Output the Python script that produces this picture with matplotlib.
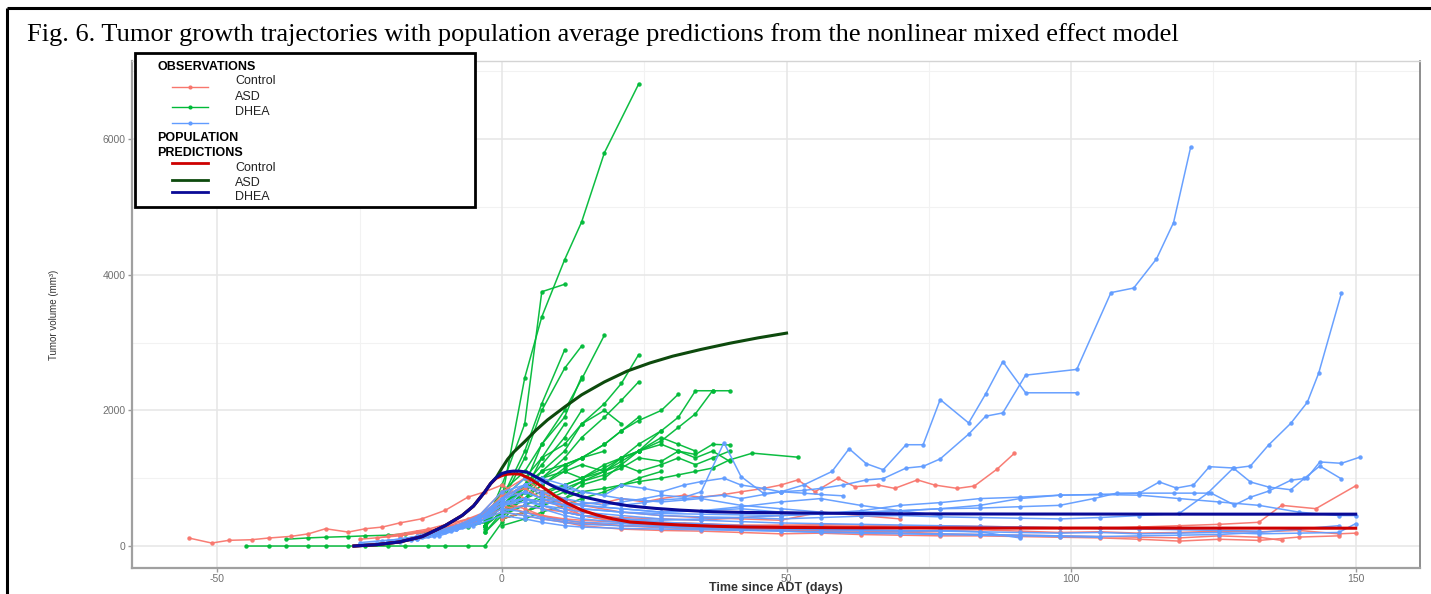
"""Fig. 6 - tumor growth trajectories with population predictions."""

import matplotlib

matplotlib.use("Agg")
import matplotlib.pyplot as plt
from matplotlib.patches import Rectangle

plt.rcParams["axes.unicode_minus"] = False

W, H = 1431, 594

CONTROL_COLOR = "#F8766D"
ASD_COLOR = "#00BA38"
DHEA_COLOR = "#619CFF"
CONTROL_PRED_COLOR = "#CD0000"
ASD_PRED_COLOR = "#0d4a0d"
DHEA_PRED_COLOR = "#0a0a96"

# ---- observed trajectories (days since ADT, tumor volume mm3) ----
ASD_DAYS = [
    [-3, 0, 4, 7, 11, 14, 18, 24],
    [-3, 0, 4, 7, 11],
    [-3, 0, 4, 7, 11, 14],
    [-3, 0, 4, 7, 11, 14, 18],
    [-3, 0, 4, 7, 11],
    [-3, 0, 4, 7, 11, 14, 18, 21, 24],
    [-3, 0, 4, 7, 11, 14, 18, 21, 24],
    [0, 4, 7, 11, 14, 18, 21, 24, 28, 31],
    [0, 4, 7, 11, 14, 18, 21, 24, 28, 31, 34, 37, 40],
    [0, 4, 7, 11, 14, 18, 21, 24, 28, 31, 34, 37],
    [0, 4, 7, 11, 14, 18, 21, 24, 28, 31, 34, 37, 40],
    [0, 4, 7, 11, 14, 18, 21, 24, 28, 31, 34, 37, 40, 44, 52],
    [-45, -41, -38, -34, -31, -27, -24, -20, -17, -13, -10, -6, -3, 0, 4, 7, 11],
    [-38, -34, -31, -27, -24, -20, -17, -13, -10, -6, -3, 0, 4, 7, 11, 14],
    [-3, 0, 4, 7, 11, 14, 18, 21],
    [-3, 0, 4, 7, 11, 14, 18, 21, 24, 28],
    [0, 4, 7, 11, 14, 18, 21, 24, 28, 31, 34, 37, 40],
    [0, 4, 7, 11, 14, 18, 21, 24, 28, 31, 34],
    [-3, 0, 4, 7, 11, 14],
    [0, 4, 7, 11, 14, 18, 21, 24],
    [-3, 0, 4, 7, 11, 14, 18],
    [0, 4, 7, 11, 14, 18, 21, 24, 28],
    [-3, 0, 4, 7, 11, 14, 18, 21, 24, 28, 31, 34, 37, 40],
]
ASD_VOLS = [
    [250, 700, 2480, 3380, 4220, 4780, 5800, 6810],
    [300, 900, 1800, 3750, 3860],
    [300, 650, 1300, 2000, 2620, 2950],
    [200, 500, 900, 1500, 2000, 2460, 3110],
    [300, 700, 1400, 2100, 2890],
    [300, 500, 800, 1100, 1400, 1800, 2100, 2400, 2820],
    [200, 450, 700, 1000, 1300, 1600, 1900, 2150, 2420],
    [500, 700, 900, 1150, 1300, 1500, 1700, 1850, 2000, 2240],
    [450, 600, 750, 900, 1000, 1150, 1300, 1400, 1700, 1900, 2290, 2290, 2290],
    [400, 500, 650, 800, 950, 1100, 1250, 1400, 1550, 1750, 1950, 2290],
    [500, 600, 700, 850, 950, 1050, 1150, 1300, 1250, 1400, 1350, 1500, 1490],
    [400, 500, 600, 700, 800, 850, 900, 950, 1000, 1050, 1100, 1150, 1270, 1370, 1310],
    [0, 0, 0, 0, 0, 0, 0, 0, 0, 0, 0, 0, 0, 350, 800, 1300, 1800],
    [100, 120, 130, 140, 150, 160, 180, 200, 230, 280, 350, 600, 900, 1200, 1600, 2000],
    [400, 700, 1000, 1300, 1500, 1800, 2000, 1800],
    [300, 500, 700, 900, 1100, 1000, 1200, 1300, 1500, 1700],
    [600, 850, 1000, 1100, 1200, 1100, 1300, 1400, 1500, 1400, 1300, 1400, 1250],
    [400, 500, 600, 700, 900, 1000, 1200, 1400, 1600, 1500, 1400],
    [400, 800, 1100, 1500, 1900, 2500],
    [500, 800, 1000, 1200, 1300, 1500, 1700, 1900],
    [300, 600, 900, 1100, 1200, 1300, 1400],
    [300, 400, 500, 600, 700, 800, 900, 1000, 1100],
    [300, 500, 700, 800, 900, 1000, 1100, 1200, 1100, 1200, 1300, 1200, 1300, 1400],
]

CONTROL_DAYS = [
    [-55, -51, -48, -44, -41, -37, -34, -31, -27, -24, -21, -18, -14, -10, -6, -3,
     0, 4, 7, 11, 14, 18, 21, 25, 28, 32, 35, 39],
    [-10, -6, -3, 0, 4, 7, 11, 14, 18, 21, 25, 28, 32, 35, 39, 42, 46, 49, 52, 55,
     59, 62, 66, 69, 73, 76, 80, 83, 87, 90],
    [-20, -13, -6, 0, 4, 7, 11, 14, 21, 28, 35, 42, 49, 56, 63, 70, 77, 84, 91, 98,
     105, 112, 119, 126, 133, 137, 143, 150],
    [-25, -18, -11, -4, 0, 4, 7, 11, 14, 21, 28, 35, 42, 49, 56, 63, 70, 77, 84, 91,
     98, 105, 112, 119, 126, 133, 140, 147],
    [-15, -8, -4, 0, 4, 7, 11, 14, 21, 28, 35, 42, 49, 56, 63, 70, 77, 84],
    [-18, -11, -4, 0, 4, 7, 11, 14, 21, 28, 35, 42, 49],
    [-12, -5, 0, 4, 7, 11, 14, 21, 28, 35, 42, 49, 56, 63, 70, 77, 84, 91, 98, 105,
     112, 119, 126, 133, 140, 147, 150],
    [-22, -15, -8, -4, 0, 4, 7, 11, 14, 21, 28, 35, 42, 49, 56, 63],
    [0, 4, 7, 11, 14, 21, 28, 35, 42, 49, 56, 63, 70, 77, 84, 91, 98, 105, 112, 119,
     126, 133, 137],
    [-8, -4, 0, 4, 7, 11, 14, 21, 28, 35, 42, 49, 56, 63, 70],
    [-14, -7, -3, 0, 4, 7, 11, 14, 21, 28, 35, 42, 49, 56, 63, 70, 77],
]
CONTROL_VOLS = [
    [118, 44, 84, 93, 118, 143, 180, 255, 206, 255, 280, 340, 403, 525, 720, 800,
     900, 700, 600, 500, 450, 400, 380, 350, 330, 320, 310, 300],
    [250, 350, 450, 600, 700, 650, 600, 620, 640, 700, 650, 700, 750, 720, 760, 800,
     850, 900, 975, 800, 1000, 875, 900, 850, 975, 900, 850, 885, 1135, 1365],
    [150, 250, 400, 600, 500, 450, 400, 380, 350, 330, 320, 300, 310, 300, 290, 280,
     300, 290, 280, 270, 260, 280, 300, 320, 350, 600, 551, 888],
    [100, 150, 250, 400, 650, 550, 450, 350, 300, 250, 230, 220, 200, 180, 190, 170,
     160, 150, 150, 140, 130, 120, 100, 73, 100, 83, 132, 150],
    [200, 300, 400, 700, 900, 750, 600, 500, 400, 350, 330, 310, 300, 320, 310, 300,
     290, 280],
    [150, 250, 450, 800, 1000, 800, 600, 450, 350, 300, 280, 250, 230],
    [200, 350, 500, 450, 400, 350, 330, 300, 290, 270, 260, 250, 230, 220, 210, 230,
     240, 220, 200, 210, 190, 200, 220, 210, 230, 180, 190],
    [120, 200, 300, 400, 550, 600, 550, 500, 450, 420, 400, 380, 420, 450, 480, 500],
    [400, 500, 450, 380, 350, 300, 270, 250, 240, 230, 220, 200, 210, 180, 170, 160,
     150, 140, 130, 120, 150, 130, 83],
    [300, 450, 700, 900, 800, 700, 600, 500, 450, 420, 400, 380, 500, 450, 400],
    [180, 320, 480, 750, 850, 700, 550, 450, 350, 300, 280, 260, 240, 250, 230, 220,
     210],
]

DHEA_DAYS = [
    [-25, -21, -18, -14, -11, -7, -4, 0, 4, 7, 11, 14, 18, 21, 25, 28, 32, 35, 39,
     42, 46, 49, 53, 56, 60, 64, 67, 71, 74, 77, 82, 85, 88, 92, 101, 107, 111, 115,
     118, 121],
    [-20, -14, -7, -4, 0, 4, 7, 11, 14, 18, 21, 25, 28, 32, 35, 39, 42, 46, 49, 53,
     58, 61, 64, 67, 71, 74, 77, 82, 85, 88, 92, 101],
    [-15, -8, -4, 0, 4, 7, 11, 14, 21, 28, 35, 42, 49, 56, 63, 70, 77, 84, 91, 98,
     104, 108, 112, 115.5, 118.5, 121.5, 124.3, 128.7, 131.5, 134.7, 138.6, 141.5,
     143.5, 147.5],
    [-18, -11, -4, 0, 4, 7, 11, 14, 21, 28, 35, 42, 49, 56, 63, 70, 77, 84, 91, 98,
     105, 112, 118, 121.6, 124.6, 128.7, 131.5, 134.7, 138.6, 141.4, 143.7, 147.5,
     150.7],
    [-10, -4, 0, 4, 7, 11, 14, 21, 28, 35, 42, 49, 56, 63, 70, 77, 84, 91, 98, 105,
     112, 119, 124, 128.5, 131.5, 134.7, 138.6, 141, 143.7, 147.5],
    [-25, -18, -11, -4, 0, 4, 7, 11, 14, 21, 28, 35, 42, 49, 56, 63, 70, 77, 84, 91,
     98, 105, 112, 119, 126, 133, 140, 147, 150],
    [-20, -13, -6, 0, 4, 7, 11, 14, 21, 28, 35, 42, 49, 56, 63, 70, 77, 84, 91, 98,
     105],
    [-15, -8, -4, 0, 4, 7, 11, 14, 21, 28, 35, 42, 49, 56, 63, 70, 77],
    [-12, -5, 0, 4, 7, 11, 14, 21, 28, 35, 42, 49, 56, 63, 70, 77, 84, 91, 98, 105,
     112, 119, 126, 133, 140, 147],
    [-8, -4, 0, 4, 7, 11, 14, 21, 28, 35, 42, 49, 56, 63, 70, 77, 84, 91, 98, 105,
     112, 119, 126, 133],
    [-18, -11, -4, 0, 4, 7, 11, 14, 21, 28, 35, 42, 49, 56],
    [0, 4, 7, 11, 14, 21, 28, 35, 42, 49, 56, 63, 70, 77, 84, 91],
    [-22, -15, -8, -4, 0, 4, 7, 11, 14, 21, 28, 35, 42, 49, 56, 63, 70, 77, 84, 91,
     98, 105, 112, 119, 126, 133, 140, 147, 150],
    [-20, -14, -7, -3, 0, 4, 7, 11, 14, 18, 21, 25, 28, 32, 35, 39, 42, 46, 49, 53,
     56, 60],
    [-16, -9, -4, 0, 4, 7, 11, 14, 21, 28, 35, 42, 49, 56, 63],
]
DHEA_VOLS = [
    [50, 80, 100, 150, 200, 300, 400, 600, 700, 650, 600, 620, 650, 600, 640, 680,
     700, 720, 750, 700, 760, 800, 820, 850, 900, 975, 995, 1150, 1175, 1285, 1650,
     1915, 1963, 2520, 2605, 3737, 3805, 4234, 4770, 5880],
    [80, 150, 300, 450, 800, 900, 800, 700, 650, 600, 650, 700, 750, 720, 800, 1525,
     1025, 775, 800, 900, 1100, 1435, 1215, 1125, 1494, 1494, 2160, 1815, 2245, 2720,
     2260, 2260],
    [100, 250, 400, 600, 700, 600, 500, 450, 400, 380, 400, 420, 450, 480, 500, 520,
     550, 560, 580, 600, 700, 780, 780, 945, 855, 900, 1170, 1150, 1180, 1490, 1810,
     2120, 2550, 3730],
    [100, 200, 400, 700, 900, 750, 650, 600, 550, 500, 520, 550, 500, 480, 520, 600,
     640, 700, 720, 750, 760, 780, 780, 780, 780, 605, 720, 810, 970, 1000, 1240,
     1220, 1310],
    [200, 350, 600, 800, 700, 600, 550, 500, 450, 430, 420, 400, 420, 440, 450, 430,
     420, 410, 400, 420, 450, 480, 780, 1150, 945, 870, 830, 1000, 1180, 990],
    [30, 60, 150, 350, 550, 500, 420, 380, 350, 330, 300, 280, 260, 250, 240, 230,
     220, 230, 210, 200, 190, 200, 180, 190, 200, 180, 190, 200, 330],
    [60, 150, 300, 500, 450, 400, 350, 320, 300, 280, 260, 240, 220, 200, 190, 180,
     170, 160, 150, 140, 130],
    [150, 300, 450, 700, 800, 700, 650, 600, 550, 500, 520, 580, 650, 700, 600, 520,
     450],
    [150, 300, 450, 400, 350, 300, 280, 260, 250, 240, 230, 220, 210, 200, 190, 180,
     170, 160, 150, 140, 150, 160, 170, 200, 250, 300],
    [250, 400, 650, 700, 600, 550, 500, 450, 400, 380, 360, 340, 330, 320, 310, 300,
     290, 280, 270, 260, 250, 240, 230, 220],
    [80, 200, 400, 600, 650, 600, 500, 450, 400, 350, 330, 300, 280, 250],
    [500, 600, 550, 450, 400, 350, 320, 300, 280, 270, 250, 240, 230, 220, 210, 120],
    [40, 100, 250, 400, 600, 700, 650, 600, 550, 500, 480, 470, 460, 450, 470, 500,
     520, 550, 600, 700, 750, 760, 750, 700, 650, 600, 500, 450, 450],
    [70, 130, 280, 450, 700, 1000, 950, 850, 800, 750, 900, 850, 800, 900, 950, 1000,
     900, 850, 800, 780, 760, 740],
    [90, 220, 420, 650, 900, 1000, 900, 800, 700, 650, 700, 600, 550, 500, 480],
]

# ---- population predictions ----
CONTROL_PRED_DAYS = [-26, -22, -18, -14, -10, -7, -5, -3, -2, -1, 0, 1, 2, 3.2, 5,
                     7.9, 9.5, 11.4, 14, 16.7, 19.5, 22.5, 27, 31.3, 37, 43, 50, 60,
                     70, 90, 110, 130, 150]
CONTROL_PRED_VOLS = [0, 20, 60, 140, 300, 450, 590, 800, 920, 1000, 1040, 1060, 1065,
                     1060, 990, 826, 730, 634, 530, 457, 400, 354, 330, 310, 292, 280,
                     274, 270, 267, 265, 265, 264, 263]
ASD_PRED_DAYS = [-26, -22, -18, -14, -10, -7, -5, -3, -2, -1, 0, 1, 2, 4, 6, 8, 11,
                 14, 18, 22, 26, 30, 35, 40, 45, 50]
ASD_PRED_VOLS = [0, 20, 60, 140, 300, 450, 590, 800, 920, 1010, 1150, 1280, 1380,
                 1540, 1710, 1860, 2050, 2230, 2420, 2580, 2700, 2800, 2900, 2990,
                 3070, 3140]
DHEA_PRED_DAYS = [-26, -22, -18, -14, -10, -7, -5, -3, -2, -1, 0, 1, 2, 3, 4.4, 6,
                  7.9, 9.5, 11.4, 14, 16.7, 19.5, 22.5, 27, 31.3, 37, 43, 50, 55, 70,
                  90, 110, 130, 150]
DHEA_PRED_VOLS = [0, 20, 60, 140, 300, 450, 590, 800, 920, 1010, 1070, 1095, 1105,
                  1105, 1090, 1020, 930, 860, 800, 730, 680, 630, 590, 555, 530, 505,
                  495, 490, 485, 475, 472, 471, 470, 470]

X_MAJOR = [-50, 0, 50, 100, 150]
X_MINOR = [-25, 25, 75, 125]
Y_MAJOR = [0, 2000, 4000, 6000]
Y_MINOR = [1000, 3000, 5000, 7000]

TITLE = ("Fig. 6. Tumor growth trajectories with population average predictions "
         "from the nonlinear mixed effect model")

SANS = "Liberation Sans"


def px_box(left, top, right, bottom):
    """Figure-pixel box -> [l, b, w, h] in figure fractions."""
    return [left / W, 1 - bottom / H, (right - left) / W, (bottom - top) / H]


def draw_obs(ax, days, vols, color):
    for d, v in zip(days, vols):
        ax.plot(d, v, color=color, lw=1.1, marker="o", ms=3.2, mew=0,
                alpha=0.95, zorder=3)


fig = plt.figure(figsize=(W / 100, H / 100), dpi=100)
fig.patch.set_facecolor("white")

ax = fig.add_axes(px_box(132, 61, 1420, 568))
ax.set_xlim(-65.0, 161.3)
ax.set_ylim(-324, 7153)

for x in X_MINOR:
    ax.axvline(x, color="#f2f2f2", lw=0.8, zorder=0)
for y in Y_MINOR:
    ax.axhline(y, color="#f2f2f2", lw=0.8, zorder=0)
for x in X_MAJOR:
    ax.axvline(x, color="#e6e6e6", lw=1.1, zorder=0)
for y in Y_MAJOR:
    ax.axhline(y, color="#e6e6e6", lw=1.1, zorder=0)

draw_obs(ax, ASD_DAYS, ASD_VOLS, ASD_COLOR)
draw_obs(ax, CONTROL_DAYS, CONTROL_VOLS, CONTROL_COLOR)
draw_obs(ax, DHEA_DAYS, DHEA_VOLS, DHEA_COLOR)

ax.plot(ASD_PRED_DAYS, ASD_PRED_VOLS, color=ASD_PRED_COLOR, lw=2.2, zorder=5)
ax.plot(CONTROL_PRED_DAYS, CONTROL_PRED_VOLS, color=CONTROL_PRED_COLOR, lw=2.2, zorder=5)
ax.plot(DHEA_PRED_DAYS, DHEA_PRED_VOLS, color=DHEA_PRED_COLOR, lw=2.2, zorder=6)

ax.set_xticks(X_MAJOR)
ax.set_yticks(Y_MAJOR)
ax.tick_params(colors="#9a9a9a", length=3, width=1, labelcolor="#707070",
               labelsize=7.5, pad=1.5)
for lab in ax.get_xticklabels() + ax.get_yticklabels():
    lab.set_family(SANS)

for side in ("left", "bottom"):
    ax.spines[side].set_color("#a0a0a0")
    ax.spines[side].set_linewidth(1.6)
ax.spines["right"].set_color("#7a7a7a")
ax.spines["right"].set_linewidth(1.2)
ax.spines["top"].set_color("#d4d4d4")
ax.spines["top"].set_linewidth(1.0)

ax.set_xlabel("Time since ADT (days)", family=SANS, fontsize=9, fontweight="bold",
              color="#333333", va="center")
ax.xaxis.set_label_coords(0.5, (568 - 588.5) / 507)
ax.set_ylabel("Tumor volume (mm³)", family=SANS, fontsize=7, color="#333333",
              va="center")
ax.yaxis.set_label_coords((54 - 132) / 1288, (568 - 315) / 507)

# overlay in figure pixels: frame, title, legend
ov = fig.add_axes([0, 0, 1, 1])
ov.set_xlim(0, W)
ov.set_ylim(H, 0)
ov.axis("off")
ov.patch.set_alpha(0)

ov.plot([7, W], [8, 8], color="black", lw=2.2, solid_capstyle="butt")
ov.plot([7, 7], [8, H], color="black", lw=2.2, solid_capstyle="butt")

ov.text(27, 35, TITLE, family="Liberation Serif", fontsize=19, va="center", ha="left")

ov.add_patch(Rectangle((135, 53), 340, 154, facecolor="white", edgecolor="black",
                       lw=2.0, zorder=2))

head = dict(family=SANS, fontsize=9, fontweight="bold", va="center", ha="left", zorder=3)
item = dict(family=SANS, fontsize=9, color="#222222", va="center", ha="left", zorder=3)

ov.text(157, 67, "OBSERVATIONS", **head)
obs_keys = [("Control", CONTROL_COLOR, 81, 87),
            ("ASD", ASD_COLOR, 97, 107),
            ("DHEA", DHEA_COLOR, 112, 123)]
for label, color, ty, ky in obs_keys:
    ov.text(235, ty, label, **item)
    ov.plot([172, 208], [ky, ky], color=color, lw=1.0, zorder=3)
    ov.plot([190], [ky], color=color, marker="o", ms=3.0, mew=0, zorder=3)

ov.text(157, 138, "POPULATION", **head)
ov.text(157, 153, "PREDICTIONS", **head)
pred_keys = [("Control", CONTROL_PRED_COLOR, 168, 163),
             ("ASD", ASD_PRED_COLOR, 183, 180),
             ("DHEA", DHEA_PRED_COLOR, 197, 192)]
for label, color, ty, ky in pred_keys:
    ov.text(235, ty, label, **item)
    ov.plot([172, 208], [ky, ky], color=color, lw=2.0, zorder=3)

fig.savefig("out.png", dpi=100, facecolor="white")
plt.close(fig)
